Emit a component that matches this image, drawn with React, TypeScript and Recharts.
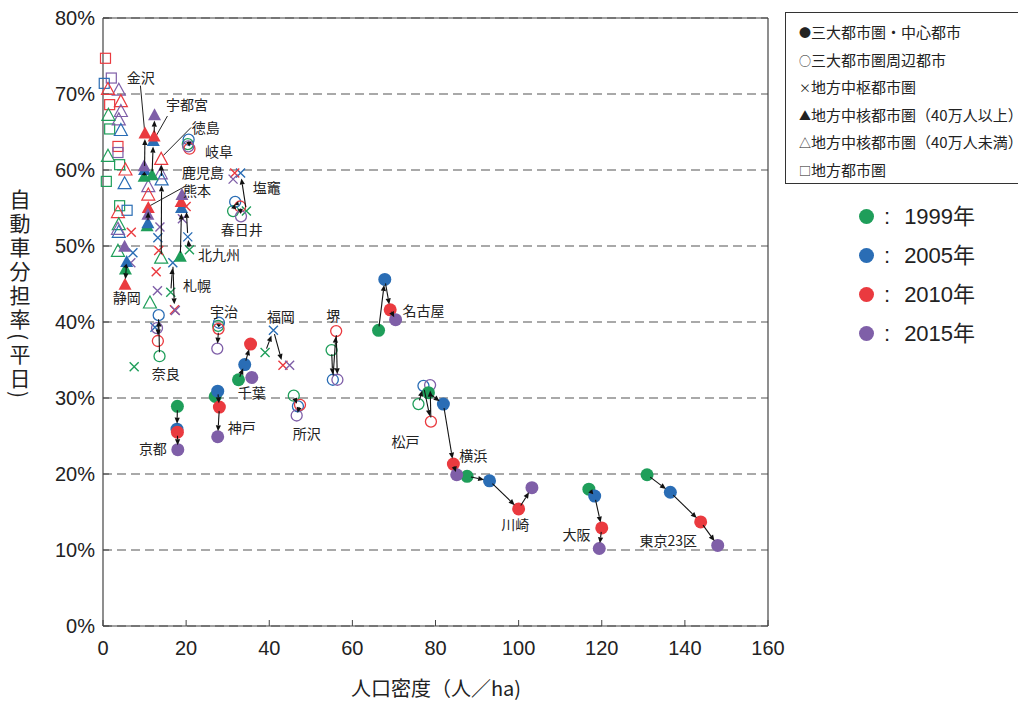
import { ScatterChart, Scatter, XAxis, YAxis, CartesianGrid, ReferenceLine } from 'recharts'
import type { CSSProperties } from 'react'

// year order used everywhere: 1999, 2005, 2010, 2015
const years = ['1999', '2005', '2010', '2015']
const yearColors = ['#1f9e5a', '#2a6db5', '#ea3a3f', '#7f5fa8']

const xTicks = [0, 20, 40, 60, 80, 100, 120, 140, 160]
const yTicks = [0, 10, 20, 30, 40, 50, 60, 70, 80]

const categoryNames = [
  '三大都市圏・中心都市',
  '三大都市圏周辺都市',
  '地方中枢都市圏',
  '地方中核都市圏（40万人以上）',
  '地方中核都市圏（40万人未満）',
  '地方都市圏',
]
const categorySymbols = ['●', '○', '×', '▲', '△', '□']

// [density (人/ha), car share (%)] per year; steps = how many year-to-year arrows to draw
type Trail = { name: string; pts: [number, number][]; steps?: number }

const centralCities: Trail[] = [
  { name: '東京23区', pts: [[130.9, 19.9], [136.5, 17.6], [143.8, 13.7], [147.9, 10.6]] },
  { name: '大阪', pts: [[116.9, 18.0], [118.3, 17.1], [120.0, 12.9], [119.4, 10.2]] },
  { name: '川崎', pts: [[87.6, 19.7], [93.0, 19.1], [100.0, 15.4], [103.2, 18.2]] },
  { name: '横浜', pts: [[78.3, 30.7], [81.9, 29.2], [84.3, 21.3], [85.1, 19.9]] },
  { name: '名古屋', pts: [[66.3, 38.9], [67.8, 45.6], [69.1, 41.6], [70.4, 40.3]] },
  { name: '京都', pts: [[17.9, 28.9], [17.8, 25.9], [17.9, 25.5], [18.0, 23.2]] },
  { name: '神戸', pts: [[27.0, 30.2], [27.6, 30.9], [28.0, 28.8], [27.6, 24.9]] },
  { name: '千葉', pts: [[32.6, 32.4], [34.1, 34.4], [35.5, 37.1], [35.8, 32.7]], steps: 2 },
]

const suburbCities: Trail[] = [
  { name: '堺', pts: [[55.0, 36.3], [55.3, 32.4], [56.1, 38.8], [56.4, 32.4]] },
  { name: '所沢', pts: [[45.9, 30.3], [46.9, 28.9], [47.4, 29.1], [46.6, 27.7]] },
  { name: '松戸', pts: [[75.9, 29.2], [77.1, 31.6], [78.9, 26.9], [78.7, 31.7]] },
  { name: '宇治', pts: [[27.7, 39.5], [27.9, 39.9], [27.8, 39.1], [27.5, 36.5]] },
  { name: '奈良', pts: [[13.6, 35.5], [13.4, 40.9], [13.2, 37.5], [13.0, 39.2]], steps: 2 },
  { name: '春日井', pts: [[31.3, 54.6], [31.8, 55.8], [33.0, 55.2], [33.2, 53.9]] },
  { name: '岐阜', pts: [[20.4, 63.4], [20.6, 64.0], [20.8, 62.8], [20.5, 63.1]] },
]

const hubCities: Trail[] = [
  { name: '福岡', pts: [[39.0, 36.0], [41.0, 38.9], [43.3, 34.3], [44.9, 34.3]], steps: 2 },
  { name: '塩竈', pts: [[34.5, 54.6], [33.1, 59.6], [31.7, 59.6], [31.3, 58.8]], steps: 1 },
  { name: '北九州', pts: [[20.8, 49.5], [20.4, 51.2], [20.0, 55.2], [19.1, 53.6]], steps: 2 },
  { name: '札幌', pts: [[16.3, 43.9], [16.8, 47.8], [17.2, 41.6], [17.4, 41.5]], steps: 2 },
]

const coreLargeCities: Trail[] = [
  { name: '金沢', pts: [[9.9, 59.1], [10.0, 60.0], [10.1, 64.8], [9.9, 60.5]], steps: 2 },
  { name: '宇都宮', pts: [[11.8, 59.3], [12.1, 63.8], [12.3, 64.4], [12.4, 67.2]] },
  { name: '熊本', pts: [[10.6, 52.6], [10.8, 53.0], [10.9, 55.0], [10.8, 54.1]], steps: 2 },
  { name: '鹿児島', pts: [[18.6, 48.6], [18.9, 55.0], [18.8, 55.8], [19.0, 56.7]], steps: 1 },
  { name: '静岡', pts: [[5.4, 46.9], [5.7, 47.9], [5.3, 44.9], [5.2, 49.9]], steps: 2 },
]

const coreSmallCities: Trail[] = [
  { name: '徳島', pts: [[14.0, 48.4], [14.1, 58.7], [14.0, 61.4], [13.9, 59.5]], steps: 2 },
]

// unlabeled cities: [year index, density, share]
const looseHub: [number, number, number][] = [
  [2, 6.8, 51.8], [3, 13.7, 52.5], [1, 13.2, 51.1], [1, 7.2, 49.1], [3, 6.7, 47.8],
  [2, 13.4, 49.4], [2, 12.8, 46.6], [3, 13.1, 44.1], [1, 12.5, 39.3], [0, 7.5, 34.1],
]

const looseCoreSmall: [number, number, number][] = [
  [3, 3.8, 70.5], [2, 1.2, 70.6], [2, 4.3, 69.0], [3, 4.3, 67.7], [3, 3.8, 66.6],
  [0, 1.3, 67.2], [1, 4.3, 65.2], [0, 1.2, 61.8], [2, 5.4, 60.0], [1, 5.2, 58.2],
  [3, 10.9, 57.8], [2, 10.9, 56.7], [2, 3.6, 54.4], [0, 3.8, 52.8], [1, 3.8, 51.8],
  [3, 3.6, 52.2], [0, 3.6, 49.3], [0, 11.3, 42.5],
]

const looseLocal: [number, number, number][] = [
  [2, 0.6, 74.7], [3, 2.0, 72.1], [1, 0.3, 71.4], [2, 1.6, 68.6], [0, 1.6, 65.4],
  [2, 3.6, 63.1], [3, 3.6, 62.3], [0, 4.0, 60.7], [0, 0.8, 58.5], [0, 4.0, 55.3],
  [1, 5.8, 54.7],
]

// city name anchors, in chart units
const cityLabels: [string, number, number][] = [
  ['金沢', 9.1, 72.2], ['宇都宮', 20.2, 68.7], ['徳島', 24.7, 65.7], ['岐阜', 27.9, 62.5],
  ['鹿児島', 24.0, 59.8], ['熊本', 22.6, 57.4], ['塩竈', 39.4, 57.8], ['春日井', 33.4, 52.2],
  ['北九州', 27.9, 48.9], ['札幌', 22.6, 44.9], ['静岡', 5.7, 43.3], ['宇治', 29.1, 41.4],
  ['福岡', 42.8, 40.8], ['堺', 55.4, 40.9], ['名古屋', 77.1, 41.6], ['奈良', 15.1, 33.3],
  ['千葉', 35.8, 30.8], ['神戸', 33.4, 26.2], ['所沢', 49.0, 25.4], ['京都', 12.0, 23.4],
  ['松戸', 72.8, 24.3], ['横浜', 89.1, 22.5], ['川崎', 99.2, 13.4], ['大阪', 113.9, 12.1],
  ['東京23区', 136.0, 11.3],
]

// thin leader lines from a label to its marker
const leaders: [number, number, number, number][] = [
  [9.0, 71.1, 10.1, 64.6],
  [15.5, 67.1, 12.9, 64.6],
  [21.2, 65.6, 14.5, 61.9],
  [19.6, 57.8, 11.3, 55.3],
]

type Kind = 'dot' | 'ring' | 'cross' | 'tri' | 'triOpen' | 'square'

const groups: { kind: Kind; trails: Trail[]; loose: [number, number, number][] }[] = [
  { kind: 'square', trails: [], loose: looseLocal },
  { kind: 'triOpen', trails: coreSmallCities, loose: looseCoreSmall },
  { kind: 'cross', trails: hubCities, loose: looseHub },
  { kind: 'ring', trails: suburbCities, loose: [] },
  { kind: 'tri', trails: coreLargeCities, loose: [] },
  { kind: 'dot', trails: centralCities, loose: [] },
]

const cjk = '"Noto Sans CJK JP", "Noto Sans", sans-serif'
const latin = '"Liberation Sans", Arial, sans-serif'

function Marker({ cx, cy, payload, kind }: any) {
  const c = yearColors[payload.year]
  if (kind === 'dot') return <circle cx={cx} cy={cy} r={6.5} fill={c} />
  if (kind === 'ring') return <circle cx={cx} cy={cy} r={5.5} fill="none" stroke={c} strokeWidth={1.3} />
  if (kind === 'cross') {
    const d = `M${cx - 4.5},${cy - 4.5}L${cx + 4.5},${cy + 4.5}M${cx + 4.5},${cy - 4.5}L${cx - 4.5},${cy + 4.5}`
    return <path d={d} stroke={c} strokeWidth={1.4} fill="none" />
  }
  const tri = `M${cx},${cy - 7}L${cx + 6.5},${cy + 5}L${cx - 6.5},${cy + 5}Z`
  if (kind === 'tri') return <path d={tri} fill={c} />
  if (kind === 'triOpen') return <path d={tri} fill="none" stroke={c} strokeWidth={1.2} />
  return <rect x={cx - 5} y={cy - 5} width={10} height={10} fill="none" stroke={c} strokeWidth={1.2} />
}

const px = (p: any) => ({ x: p.cx ?? p.x, y: p.cy ?? p.y })

// year-to-year arrows, pulled back so they stop at the marker edge
function ArrowTrail({ points, steps }: { points: any[]; steps: number }) {
  const parts = []
  for (let i = 0; i < Math.min(steps, points.length - 1); i++) {
    const a = px(points[i])
    const b = px(points[i + 1])
    const dx = b.x - a.x
    const dy = b.y - a.y
    const len = Math.hypot(dx, dy)
    if (len < 6) continue
    const ux = dx / len
    const uy = dy / len
    const g0 = Math.min(4, len * 0.2)
    const g1 = Math.min(5.5, len * 0.25)
    const tx = b.x - ux * g1
    const ty = b.y - uy * g1
    const head = Math.min(6, len * 0.5)
    const bx = tx - ux * head
    const by = ty - uy * head
    parts.push(
      <g key={i}>
        <line x1={a.x + ux * g0} y1={a.y + uy * g0} x2={bx} y2={by} stroke="#111" strokeWidth={1.1} />
        <path
          d={`M${tx},${ty}L${bx - uy * 2.6},${by + ux * 2.6}L${bx + uy * 2.6},${by - ux * 2.6}Z`}
          fill="#111"
        />
      </g>,
    )
  }
  return <g>{parts}</g>
}

function Leader({ points }: { points: any[] }) {
  const a = px(points[0])
  const b = px(points[1])
  return <line x1={a.x} y1={a.y} x2={b.x} y2={b.y} stroke="#222" strokeWidth={1} />
}

const noSymbol = () => <g />

export default function App() {
  const markerSeries = groups.map((g) => ({
    kind: g.kind,
    data: [
      ...g.trails.flatMap((t) => t.pts.map(([x, y], year) => ({ x, y, year }))),
      ...g.loose.map(([year, x, y]) => ({ x, y, year })),
    ],
  }))
  const trails = groups.flatMap((g) => g.trails)

  const wrap: CSSProperties = {
    position: 'absolute', left: 0, top: 0, width: 1018, height: 704,
    overflow: 'hidden', background: '#fff',
  }
  const legendBox: CSSProperties = {
    position: 'absolute', left: 785, top: 12, width: 250, height: 172,
    border: '1px solid #333', boxSizing: 'border-box', paddingTop: 5, paddingLeft: 13,
    fontFamily: cjk, fontSize: 15, color: '#222', background: '#fff',
  }

  return (
    <div style={wrap}>
      <ScatterChart width={1018} height={704} margin={{ top: 18, right: 250, bottom: 38, left: 43 }}>
        <CartesianGrid vertical={false} stroke="#555" strokeWidth={1.2} strokeDasharray="9 5" />
        <XAxis
          type="number"
          dataKey="x"
          domain={[0, 160]}
          ticks={xTicks}
          height={40}
          tickSize={-6}
          tickMargin={21}
          axisLine={{ stroke: '#444', strokeWidth: 1.2 }}
          tickLine={{ stroke: '#444' }}
          tick={{ fontSize: 20, fill: '#222', fontFamily: latin }}
        />
        <YAxis
          type="number"
          dataKey="y"
          domain={[0, 80]}
          ticks={yTicks}
          width={60}
          tickSize={-6}
          tickMargin={14}
          tickFormatter={(v) => `${v}%`}
          axisLine={{ stroke: '#444', strokeWidth: 1.2 }}
          tickLine={{ stroke: '#444' }}
          tick={{ fontSize: 20, fill: '#222', fontFamily: latin }}
        />
        <ReferenceLine y={80} stroke="#444" strokeWidth={1.2} />
        <ReferenceLine x={160} stroke="#444" strokeWidth={1.2} />

        {leaders.map(([x1, y1, x2, y2], i) => (
          <Scatter
            key={`leader-${i}`}
            data={[{ x: x1, y: y1 }, { x: x2, y: y2 }]}
            line={(lp: any) => <Leader points={lp.points} />}
            shape={noSymbol}
            isAnimationActive={false}
          />
        ))}

        {markerSeries.map((s) => (
          <Scatter
            key={s.kind}
            data={s.data}
            shape={(p: any) => <Marker {...p} kind={s.kind} />}
            isAnimationActive={false}
          />
        ))}

        {trails.map((t) => (
          <Scatter
            key={`trail-${t.name}`}
            data={t.pts.map(([x, y]) => ({ x, y }))}
            line={(lp: any) => <ArrowTrail points={lp.points} steps={t.steps ?? 3} />}
            shape={noSymbol}
            isAnimationActive={false}
          />
        ))}

        <Scatter
          data={cityLabels.map(([name, x, y]) => ({ name, x, y }))}
          shape={(p: any) => (
            <text
              x={p.cx}
              y={p.cy}
              textAnchor="middle"
              dominantBaseline="central"
              fontSize={14}
              fontFamily={cjk}
              fill="#222"
            >
              {p.payload.name}
            </text>
          )}
          isAnimationActive={false}
        />
      </ScatterChart>

      <div
        style={{
          position: 'absolute', left: 9, top: 189, writingMode: 'vertical-rl',
          fontFamily: cjk, fontSize: 21, letterSpacing: 3, lineHeight: 1, color: '#222',
        }}
      >
        自動車分担率(平日)
      </div>
      <div
        style={{
          position: 'absolute', left: 0, width: 872, top: 678, textAlign: 'center',
          fontFamily: cjk, fontSize: 20, lineHeight: 1, color: '#222',
        }}
      >
        人口密度（人／ha)
      </div>

      <div style={legendBox}>
        {categoryNames.map((name, i) => (
          <div key={name} style={{ height: 27.5, lineHeight: '27.5px', whiteSpace: 'nowrap' }}>
            <span style={{ display: 'inline-block', width: 12, fontSize: 12, textAlign: 'center' }}>
              {categorySymbols[i]}
            </span>
            {name}
          </div>
        ))}
      </div>

      {years.map((y, i) => (
        <div
          key={y}
          style={{
            position: 'absolute', left: 859, top: 199 + i * 39, height: 30, lineHeight: '30px',
            fontFamily: latin, fontSize: 22, color: '#222', whiteSpace: 'nowrap',
          }}
        >
          <span
            style={{
              display: 'inline-block', width: 15, height: 15, borderRadius: '50%',
              background: yearColors[i], verticalAlign: 'middle', marginTop: -3,
            }}
          />
          <span style={{ marginLeft: 10 }}>:</span>
          <span style={{ marginLeft: 14 }}>{y}</span>
          <span style={{ fontFamily: cjk }}>年</span>
        </div>
      ))}
    </div>
  )
}
